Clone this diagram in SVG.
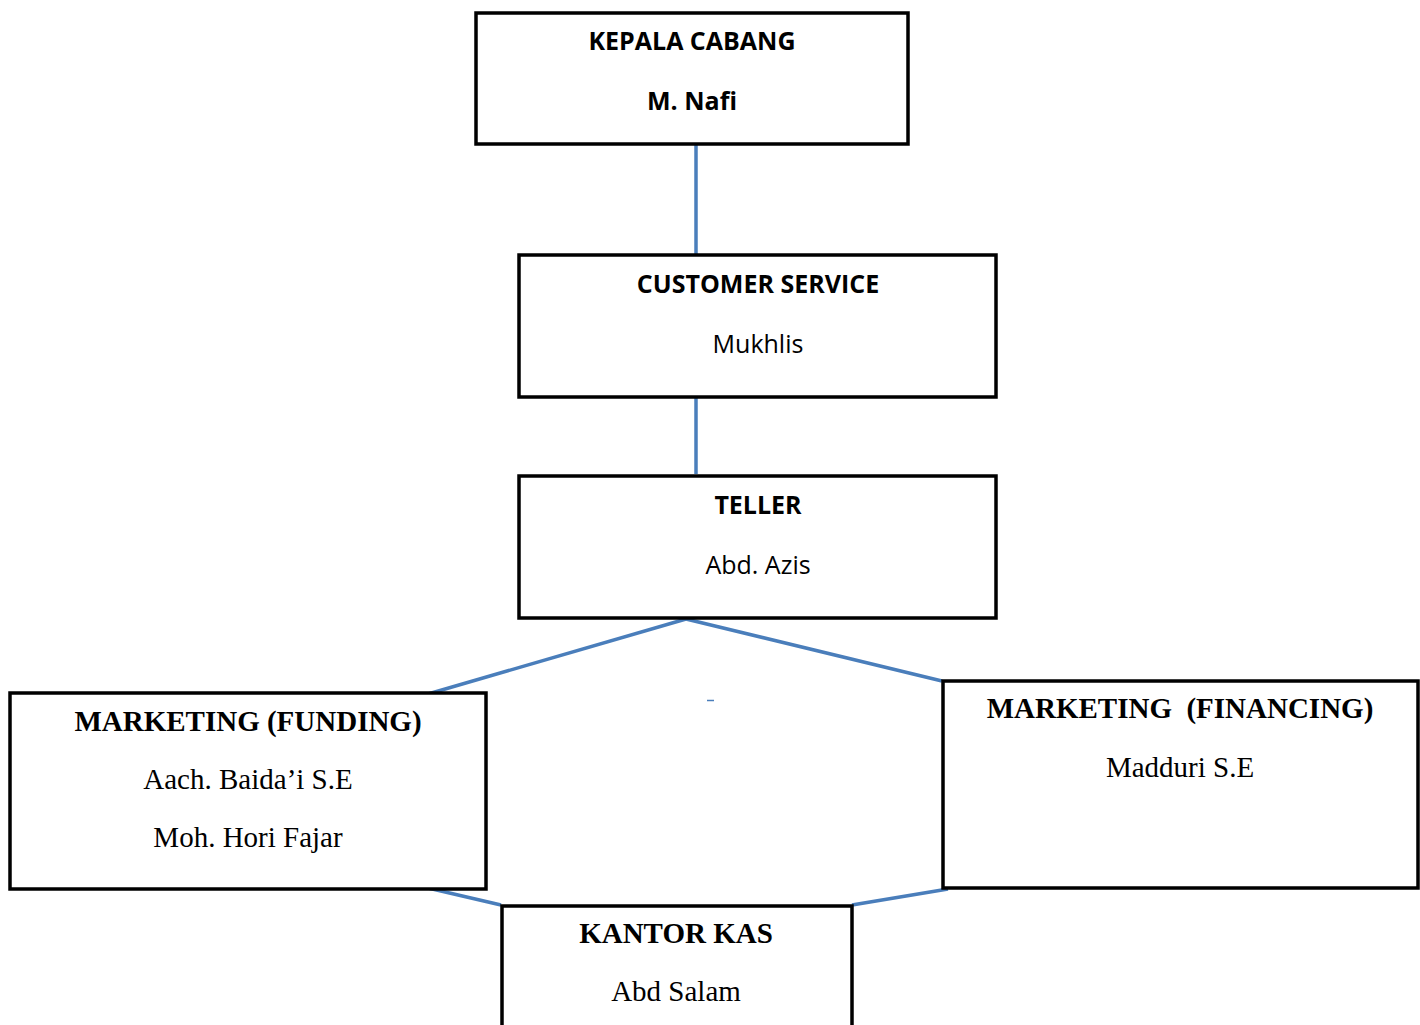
<svg xmlns="http://www.w3.org/2000/svg" width="1420" height="1025" viewBox="0 0 1420 1025">
<style>
.box{fill:#fff;stroke:#000;stroke-width:3.5}
.conn{stroke:#4a7ebb;stroke-width:3.5;fill:none}
.sb{font-family:"Open Sans","Noto Sans",sans-serif;font-weight:bold;font-size:25px;fill:#000;text-anchor:middle}
.sr{font-family:"Open Sans","Noto Sans",sans-serif;font-size:25px;fill:#000;text-anchor:middle}
.tb{font-family:"Liberation Serif",serif;font-weight:bold;font-size:29px;fill:#000;text-anchor:middle}
.tr{font-family:"Liberation Serif",serif;font-size:29px;fill:#000;text-anchor:middle}
</style>
<rect width="1420" height="1025" fill="#fff"/>
<g id="connectors">
<line class="conn" x1="696" y1="145" x2="696" y2="256"/>
<line class="conn" x1="696" y1="398" x2="696" y2="474"/>
<line class="conn" x1="686" y1="619" x2="428" y2="694"/>
<line class="conn" x1="686" y1="619" x2="942" y2="681"/>
<line class="conn" x1="428" y1="888" x2="501" y2="905"/>
<line class="conn" x1="852" y1="905" x2="948" y2="889"/>
<line x1="707" y1="700.5" x2="714" y2="700.5" stroke="#4a7ebb" stroke-width="1.5"/>
</g>
<g id="kepala-cabang">
<rect class="box" x="476" y="13" width="432" height="131"/>
<text class="sb" x="692" y="50">KEPALA CABANG</text>
<text class="sb" x="692" y="110">M. Nafi</text>
</g>
<g id="customer-service">
<rect class="box" x="519" y="255" width="477" height="142"/>
<text class="sb" x="758" y="293">CUSTOMER SERVICE</text>
<text class="sr" x="758" y="353">Mukhlis</text>
</g>
<g id="teller">
<rect class="box" x="519" y="476" width="477" height="142"/>
<text class="sb" x="758" y="514">TELLER</text>
<text class="sr" x="758" y="574">Abd. Azis</text>
</g>
<g id="marketing-funding">
<rect class="box" x="10" y="693" width="476" height="196"/>
<text class="tb" x="248" y="731">MARKETING (FUNDING)</text>
<text class="tr" x="248" y="789">Aach. Baida’i S.E</text>
<text class="tr" x="248" y="847">Moh. Hori Fajar</text>
</g>
<g id="marketing-financing">
<rect class="box" x="943" y="681" width="475" height="207"/>
<text class="tb" x="1180" y="718" xml:space="preserve">MARKETING  (FINANCING)</text>
<text class="tr" x="1180" y="777">Madduri S.E</text>
</g>
<g id="kantor-kas">
<path class="box" d="M502 1025 V906 H852 V1025"/>
<text class="tb" x="676" y="943">KANTOR KAS</text>
<text class="tr" x="676" y="1001">Abd Salam</text>
</g>
</svg>
